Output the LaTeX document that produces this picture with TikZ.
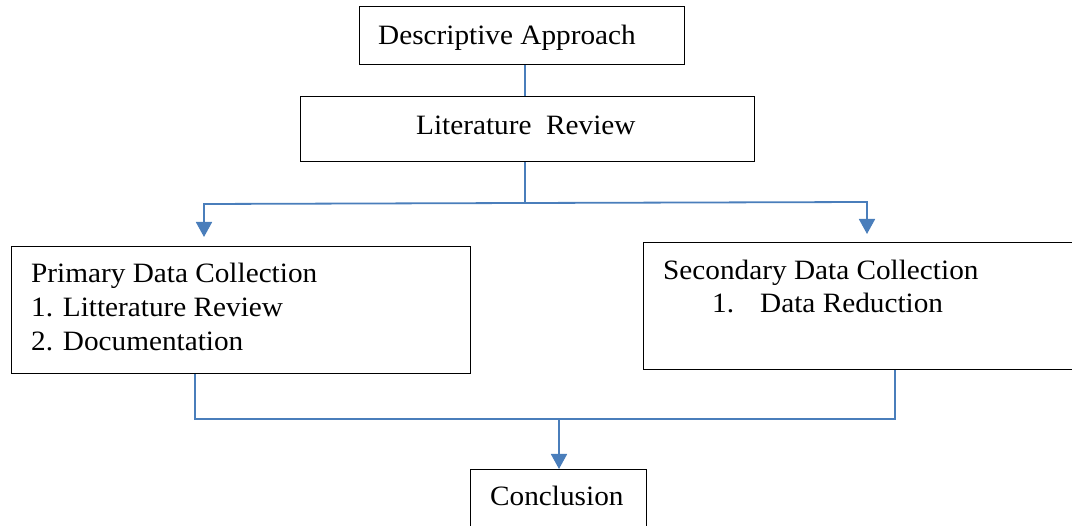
\documentclass[tikz,border=0pt]{standalone}
\usepackage{fontspec}
\setmainfont{Liberation Serif}[FakeStretch=1.045]
\usetikzlibrary{arrows.meta}
\definecolor{linkblue}{HTML}{4A7EBB}
\begin{document}
\begin{tikzpicture}[x=1pt,y=-1pt,
  box/.style={draw=black,line width=1.2pt,rectangle,inner sep=0pt,anchor=north west},
  txt/.style={anchor=base west,inner sep=0pt,font=\fontsize{28}{34}\selectfont},
  link/.style={draw=linkblue,line width=1.8pt},
  arr/.style={link,-{Triangle[width=16pt,length=15pt]}}]
\useasboundingbox (0,0) rectangle (1072,526);
% boxes
\node[box,minimum width=325pt,minimum height=58pt] (desc) at (359,6) {};
\node[box,minimum width=454pt,minimum height=65pt] (lit) at (300,96) {};
\node[box,minimum width=459pt,minimum height=127pt] (prim) at (11,246) {};
\node[box,minimum width=432pt,minimum height=127pt] (sec) at (643,242) {};
\node[box,minimum width=176pt,minimum height=62pt] (conc) at (470,469) {};
% texts
\node[txt] (tdesc) at (378,45) {Descriptive Approach};
\node[txt] (tlit) at (416,135) {Literature\ \ Review};
\node[txt] (tp1) at (31,283) {Primary Data Collection};
\node[txt] (tp2) at (31,317) {1. Litterature Review};
\node[txt] (tp3) at (31,351) {2. Documentation};
\node[txt] (ts1) at (663,280) {Secondary Data Collection};
\node[txt] (ts2) at (712,313) {1.};
\node[txt] (ts3) at (760,313) {Data Reduction};
\node[txt] (tconc) at (490,506) {Conclusion};
% connectors
\coordinate (split) at (525,203);
\coordinate (joinl) at (195,419);
\coordinate (joinr) at (895,419);
\coordinate (joinm) at (559,419);
\draw[link] (desc.south -| split) -- (lit.north -| split);
\draw[link] (lit.south -| split) -- (split);
\draw[arr] (split) -- (204,204) -- (204,237);
\draw[arr] (split) -- (867,202) -- (867,234);
\draw[link] (prim.south -| joinl) -- (joinl) -- (joinr) -- (sec.south -| joinr);
\draw[arr] (joinm) -- (conc.north -| joinm);
\end{tikzpicture}
\end{document}
